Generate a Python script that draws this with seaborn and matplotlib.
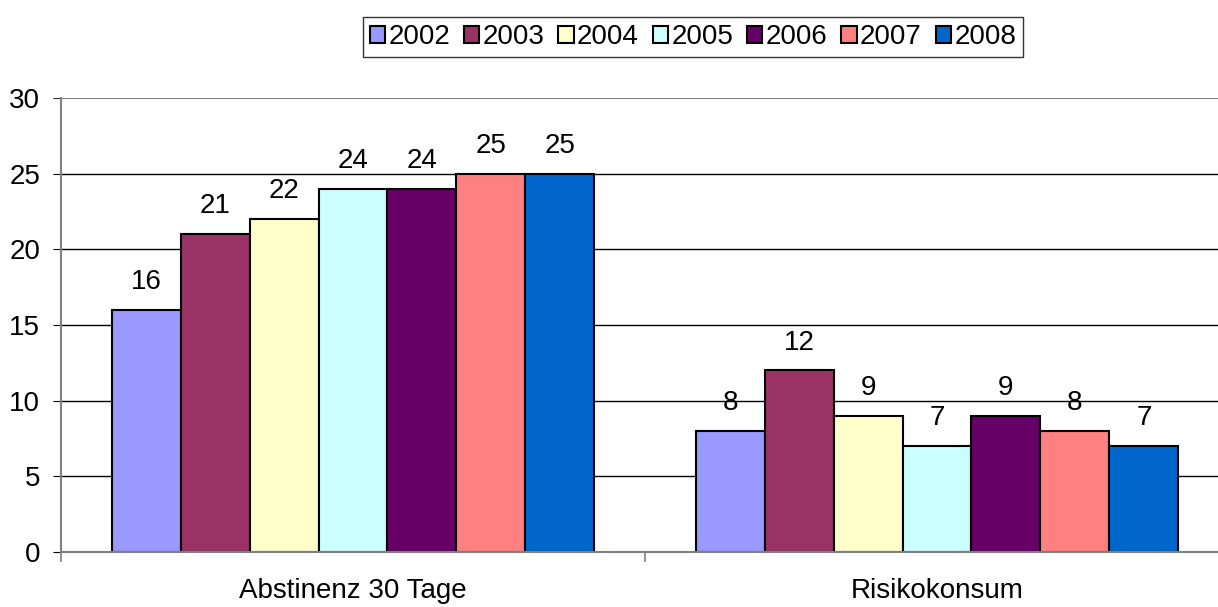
import matplotlib
matplotlib.use("Agg")
import matplotlib.pyplot as plt
import seaborn as sns
import pandas as pd
from matplotlib.patches import Patch
from matplotlib.ticker import FixedLocator

categories = ["Abstinenz 30 Tage", "Risikokonsum"]
years = ["2002", "2003", "2004", "2005", "2006", "2007", "2008"]
abstinenz = [16, 21, 22, 24, 24, 25, 25]
risiko = [8, 12, 9, 7, 9, 8, 7]
colors = ["#9999FF", "#993366", "#FFFFCC", "#CCFFFF", "#660066", "#FF8080", "#0066CC"]

rows = []
for y, a, r in zip(years, abstinenz, risiko):
    rows.append({"cat": categories[0], "year": y, "val": a})
    rows.append({"cat": categories[1], "year": y, "val": r})
df = pd.DataFrame(rows)

sns.set_style("white")
plt.rcParams['font.family'] = ['Liberation Sans', 'DejaVu Sans']
plt.rcParams['text.color'] = 'black'
plt.rcParams['xtick.color'] = 'black'
plt.rcParams['ytick.color'] = 'black'
plt.rcParams['xtick.labelcolor'] = 'black'
plt.rcParams['ytick.labelcolor'] = 'black'

FS = 20

fig = plt.figure(figsize=(12.18, 6.07), dpi=100)
ax = fig.add_axes([61/1218, 55/607, 1168/1218, 454/607])

sns.barplot(data=df, x="cat", y="val", hue="year", order=categories, hue_order=years,
            palette=colors, width=0.827, edgecolor="black", linewidth=1.5,
            saturation=1, legend=False, ax=ax)

ax.set_xlim(-0.5, 1.5)
ax.set_ylim(0, 30)
ax.set_yticks([0, 5, 10, 15, 20, 25])
ax.yaxis.grid(True, color="black", linewidth=1)
ax.set_axisbelow(True)
ax.set_xlabel("")
ax.set_ylabel("")

for s in ["top", "right"]:
    ax.spines[s].set_visible(False)
ax.spines["left"].set_color("#808080")
ax.spines["bottom"].set_color("#808080")
ax.spines["left"].set_linewidth(1.5)
ax.spines["bottom"].set_linewidth(1.5)
ax.axhline(30, color="#808080", linewidth=1.5, zorder=0.5)
ax.yaxis.set_minor_locator(FixedLocator([30]))
ax.tick_params(axis="y", which="minor", direction="out", length=6, color="black",
               labelsize=FS, pad=9, left=True, labelleft=True)
ax.yaxis.set_minor_formatter(matplotlib.ticker.FixedFormatter(["30"]))

ax.tick_params(axis="y", which="major", direction="out", length=6, color="black",
               labelsize=FS, pad=9, left=True)
ax.tick_params(axis="x", which="major", length=0, labelsize=FS, pad=19)
ax.xaxis.set_minor_locator(FixedLocator([-0.5, 0.5, 1.5]))
ax.tick_params(axis="x", which="minor", direction="out", length=7, color="#808080", width=1.2, bottom=True)

for cont in ax.containers:
    for bar in cont:
        h = bar.get_height()
        ax.annotate(f"{int(h)}", (bar.get_x() + bar.get_width() / 2, h),
                    xytext=(0, 15), textcoords="offset points",
                    ha="center", va="baseline", fontsize=FS)

handles = [Patch(facecolor=c, edgecolor="black", linewidth=1.5) for c in colors]
leg = fig.legend(handles, years, loc="center", bbox_to_anchor=(693/1218, 1 - 37/607),
                 ncol=7, frameon=True, fancybox=False, fontsize=FS,
                 handlelength=0.55, handleheight=0.55, handletextpad=0.12,
                 columnspacing=0.5, borderpad=0.25, borderaxespad=0, edgecolor="black")
leg.get_frame().set_linewidth(1)

fig.savefig("out.png", dpi=100)
